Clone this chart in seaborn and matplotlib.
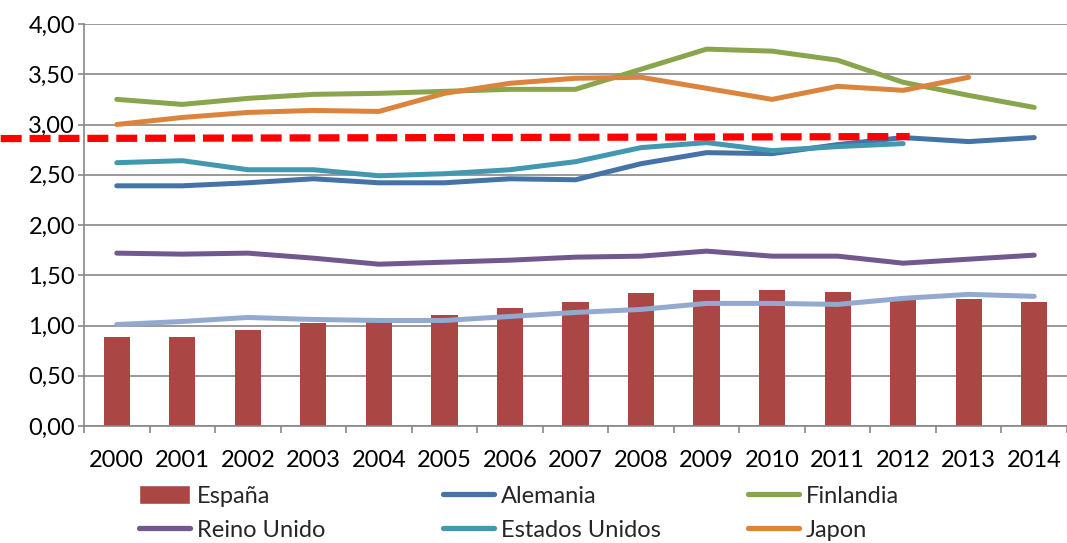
import numpy as np
import pandas as pd
import matplotlib
matplotlib.use("Agg")
import matplotlib.pyplot as plt
import matplotlib.ticker as mticker
from matplotlib.patches import Patch
from matplotlib.lines import Line2D
import seaborn as sns

years = [str(y) for y in range(2000, 2015)]
espana = [0.89, 0.89, 0.96, 1.02, 1.04, 1.10, 1.17, 1.23, 1.32, 1.35, 1.35, 1.33, 1.27, 1.26, 1.23]
alemania = [2.39, 2.39, 2.42, 2.46, 2.42, 2.42, 2.46, 2.45, 2.61, 2.72, 2.71, 2.80, 2.87, 2.83, 2.87]
finlandia = [3.25, 3.20, 3.26, 3.30, 3.31, 3.33, 3.35, 3.35, 3.55, 3.75, 3.73, 3.64, 3.42, 3.29, 3.17]
reino_unido = [1.72, 1.71, 1.72, 1.67, 1.61, 1.63, 1.65, 1.68, 1.69, 1.74, 1.69, 1.69, 1.62, 1.66, 1.70]
estados_unidos = [2.62, 2.64, 2.55, 2.55, 2.49, 2.51, 2.55, 2.63, 2.77, 2.82, 2.74, 2.78, 2.81, np.nan, np.nan]
japon = [3.00, 3.07, 3.12, 3.14, 3.13, 3.31, 3.41, 3.46, 3.47, 3.36, 3.25, 3.38, 3.34, 3.47, np.nan]
italia = [1.01, 1.04, 1.08, 1.06, 1.05, 1.05, 1.09, 1.13, 1.16, 1.22, 1.22, 1.21, 1.27, 1.31, 1.29]
referencia = [2.86, 2.88]

series = [
    ("Alemania", alemania, "#4572A7"),
    ("Finlandia", finlandia, "#89A54E"),
    ("Reino Unido", reino_unido, "#71588F"),
    ("Estados Unidos", estados_unidos, "#4198AF"),
    ("Japon", japon, "#DB843D"),
    ("Italia", italia, "#93A9CF"),
]
bar_color = "#AA4643"
FS = 17

sns.set_theme(style="white")
plt.rcParams["font.family"] = ["Lato", "DejaVu Sans"]

fig = plt.figure(figsize=(10.67, 5.43), dpi=100)
ax = fig.add_axes([84 / 1067, 117 / 543, 983 / 1067, 402 / 543])

idx = np.arange(len(years))
df_bar = pd.DataFrame({"year": years, "value": espana})
sns.barplot(data=df_bar, x="year", y="value", color=bar_color, width=0.40,
            saturation=1, ax=ax, zorder=2, edgecolor="none")

for name, vals, col in series:
    d = pd.DataFrame({"i": idx, "v": vals})
    sns.lineplot(data=d, x="i", y="v", color=col, lw=3.6, ax=ax, zorder=3,
                 solid_capstyle="round", solid_joinstyle="round")

ax.set_ylim(0, 4)
x_right = 983 / 66.1 - 0.5
ax.set_xlim(-0.5, x_right)

# red dashed reference line, from figure left edge to just past 2012
fig.canvas.draw()
x_left = ax.transData.inverted().transform(fig.transFigure.transform((0, 0)))[0]
ax.plot([x_left, 12.1], referencia, color="#FF0000", lw=5.2,
        linestyle=(0, (2.9, 1.1)), clip_on=False, zorder=4, solid_capstyle="butt")

ax.set_yticks(np.arange(0, 4.01, 0.5))
ax.yaxis.set_major_formatter(mticker.FuncFormatter(lambda v, p: f"{v:.2f}".replace(".", ",")))
ax.grid(axis="y", color="#878787", lw=1.2)
ax.set_axisbelow(True)
ax.set_xticks(idx)
ax.set_xticklabels(years)
ax.set_xticks(np.arange(-0.5, 15, 1.0), minor=True)
ax.tick_params(axis="x", which="major", length=0, pad=17, labelsize=FS, colors="black")
ax.tick_params(axis="x", which="minor", length=5, width=1.2, color="#878787", bottom=True)
ax.tick_params(axis="y", which="major", length=4.5, width=1.2, color="#878787", left=True,
               pad=2, labelsize=FS, labelcolor="black")
ax.set_xlabel("")
ax.set_ylabel("")
for s in ["top", "right"]:
    ax.spines[s].set_visible(False)
for s in ["left", "bottom"]:
    ax.spines[s].set_color("#878787")
    ax.spines[s].set_linewidth(1.2)

# legend: three columns, two rows
def ln(c, lab):
    return Line2D([], [], color=c, lw=3.8, solid_capstyle="round", label=lab)

cols = [
    [Patch(facecolor=bar_color, label="España"), ln("#71588F", "Reino Unido")],
    [ln("#4572A7", "Alemania"), ln("#4198AF", "Estados Unidos")],
    [ln("#89A54E", "Finlandia"), ln("#DB843D", "Japon")],
]
xs = [139, 443, 748]
for h, x in zip(cols, xs):
    fig.legend(handles=h, loc="upper left", bbox_to_anchor=(x / 1067, 1 - 485 / 543),
               frameon=False, fontsize=FS, handlelength=2.15, handleheight=0.85,
               handletextpad=0.3, labelspacing=0.55, borderpad=0, borderaxespad=0)

fig.savefig("out.png", dpi=100)
